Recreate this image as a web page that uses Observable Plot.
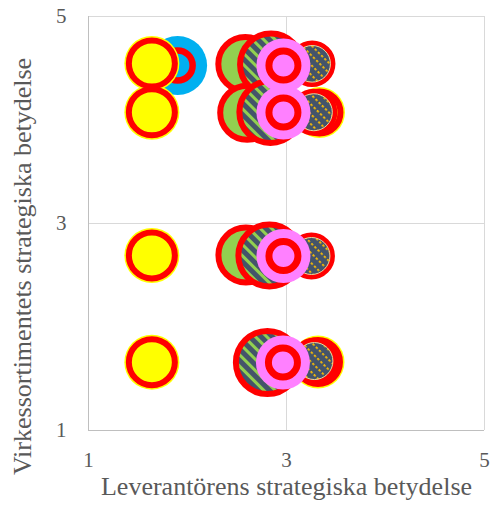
<!DOCTYPE html>
<html>
<head>
<meta charset="utf-8">
<script src="https://cdn.jsdelivr.net/npm/d3@7"></script>
<script src="https://cdn.jsdelivr.net/npm/@observablehq/plot@0.6"></script>
<style>
  html, body { margin: 0; padding: 0; background: #fff; }
</style>
</head>
<body>
<div id="chart"></div>
<script>
// ---- data ----
const xTitle = "Leverantörens strategiska betydelse";
const yTitle = "Virkessortimentets strategiska betydelse";
const xTicks = [1, 3, 5];
const yTicks = [1, 3, 5];

const blueX = [1.90];
const blueY = [4.527];
const blueSize = [29.5];

const yellowX = [1.64, 1.64, 1.64, 1.64];
const yellowY = [4.546, 4.075, 2.691, 1.660];
const yellowSize = [27.5, 27.5, 27.5, 27.5];

const greenX = [2.584, 2.603, 2.590];
const greenY = [4.541, 4.070, 2.696];
const greenSize = [30, 30, 30.5];

const stripeX = [2.844, 2.837, 2.827, 2.807];
const stripeY = [4.536, 4.077, 2.691, 1.657];
const stripeSize = [34, 34, 34, 34.5];

const yellow2X = [3.333, 3.318];
const yellow2Y = [4.073, 1.662];
const yellow2Size = [25.5, 26.5];

const dotX = [3.259, 3.276, 3.252, 3.282];
const dotY = [4.543, 4.075, 2.686, 1.671];
const dotSize = [23.3, 23.5, 23.5, 23.5];

const pinkX = [2.969, 2.969, 2.969, 2.964];
const pinkY = [4.527, 4.073, 2.686, 1.657];
const pinkSize = [27, 27, 27, 27];

const toRows = (xs, ys, ss) => xs.map((x, i) => ({x, y: ys[i], size: ss[i]}));
const blue = toRows(blueX, blueY, blueSize);
const yellow = toRows(yellowX, yellowY, yellowSize);
const green = toRows(greenX, greenY, greenSize);
const stripe = toRows(stripeX, stripeY, stripeSize);
const yellow2 = toRows(yellow2X, yellow2Y, yellow2Size);
const dots = toRows(dotX, dotY, dotSize);
const pink = toRows(pinkX, pinkY, pinkSize);

const RED = "#ff0000";
const gridColor = "#d9d9d9";
const axisColor = "#bfbfbf";
const textColor = "#595959";

const chart = Plot.plot({
  width: 494,
  height: 511,
  marginLeft: 88,
  marginRight: 10,
  marginTop: 16,
  marginBottom: 81,
  style: {fontFamily: "'Liberation Serif', 'Times New Roman', serif", fontSize: "21px", color: textColor, background: "#fff", overflow: "visible"},
  x: {domain: [1, 5]},
  y: {domain: [1, 5]},
  r: {type: "linear", domain: [0, 40], range: [0, 40]},
  marks: [
    Plot.ruleX([3, 5], {stroke: gridColor, strokeWidth: 1}),
    Plot.ruleY([3, 5], {stroke: gridColor, strokeWidth: 1}),
    Plot.ruleX([1], {stroke: axisColor, strokeWidth: 1}),
    Plot.ruleY([1], {stroke: axisColor, strokeWidth: 1}),
    Plot.axisX({ticks: xTicks, tickSize: 0, tickPadding: 22, tickFormat: d => String(d), label: null, fill: textColor}),
    Plot.axisY({ticks: yTicks, tickSize: 0, tickPadding: 22, tickFormat: d => String(d), label: null, fill: textColor}),
    Plot.text([xTitle], {frameAnchor: "bottom", dy: 64, fontSize: 26, fill: textColor, text: d => d, textAnchor: "middle"}),
    Plot.text([yTitle], {frameAnchor: "left", dx: -66, dy: 43, rotate: -90, fontSize: 26, fill: textColor, text: d => d, textAnchor: "middle"}),

    // blue bubble with inner red ring
    Plot.dot(blue, {x: "x", y: "y", r: "size", fill: "#00b0f0", stroke: "none"}),
    Plot.dot(blue, {x: "x", y: "y", r: d => d.size * 0.51, fill: "none", stroke: RED, strokeWidth: 6.5}),

    // yellow bubbles
    Plot.dot(yellow, {x: "x", y: "y", r: "size", fill: "#ffff00", stroke: "none"}),
    Plot.dot(yellow, {x: "x", y: "y", r: d => d.size - 4.5, fill: "none", stroke: RED, strokeWidth: 6}),

    // green bubbles
    Plot.dot(green, {x: "x", y: "y", r: d => d.size - 3, fill: "#92d050", stroke: RED, strokeWidth: 6}),

    // striped bubbles
    Plot.dot(stripe, {x: "x", y: "y", r: d => d.size - 3, fill: "url(#stripePat)", stroke: RED, strokeWidth: 6}),

    // yellow bubbles (right)
    Plot.dot(yellow2, {x: "x", y: "y", r: "size", fill: "#ffff00", stroke: "none"}),
    Plot.dot(yellow2, {x: "x", y: "y", r: d => d.size - 4.5, fill: "none", stroke: RED, strokeWidth: 6}),

    // dotted bubbles
    Plot.dot(dots, {x: "x", y: "y", r: d => d.size - 2.5, fill: "url(#dotPat)", stroke: RED, strokeWidth: 5}),
    Plot.dot(dots, {x: "x", y: "y", r: d => d.size - 5, fill: "none", stroke: "#e8d9a0", strokeWidth: 1}),

    // pink bubbles with inner red ring
    Plot.dot(pink, {x: "x", y: "y", r: "size", fill: "#ff80ff", stroke: "none"}),
    Plot.dot(pink, {x: "x", y: "y", r: d => d.size * 0.537, fill: "none", stroke: RED, strokeWidth: 7})
  ]
});

const defs = d3.select(chart).insert("defs", ":first-child");
const sp = defs.append("pattern")
  .attr("id", "stripePat")
  .attr("patternUnits", "userSpaceOnUse")
  .attr("width", 8).attr("height", 8)
  .attr("patternTransform", "rotate(45)");
sp.append("rect").attr("width", 8).attr("height", 8).attr("fill", "#44546a");
sp.append("rect").attr("y", 0).attr("width", 8).attr("height", 3).attr("fill", "#92d050");

const dp = defs.append("pattern")
  .attr("id", "dotPat")
  .attr("patternUnits", "userSpaceOnUse")
  .attr("width", 4.5).attr("height", 7)
  .attr("patternTransform", "rotate(45)");
dp.append("rect").attr("width", 4.5).attr("height", 7).attr("fill", "#44546a");
dp.append("rect").attr("x", 0).attr("y", 0).attr("width", 2.4).attr("height", 1.8).attr("fill", "#ffc000");

document.getElementById("chart").appendChild(chart);
</script>
</body>
</html>
